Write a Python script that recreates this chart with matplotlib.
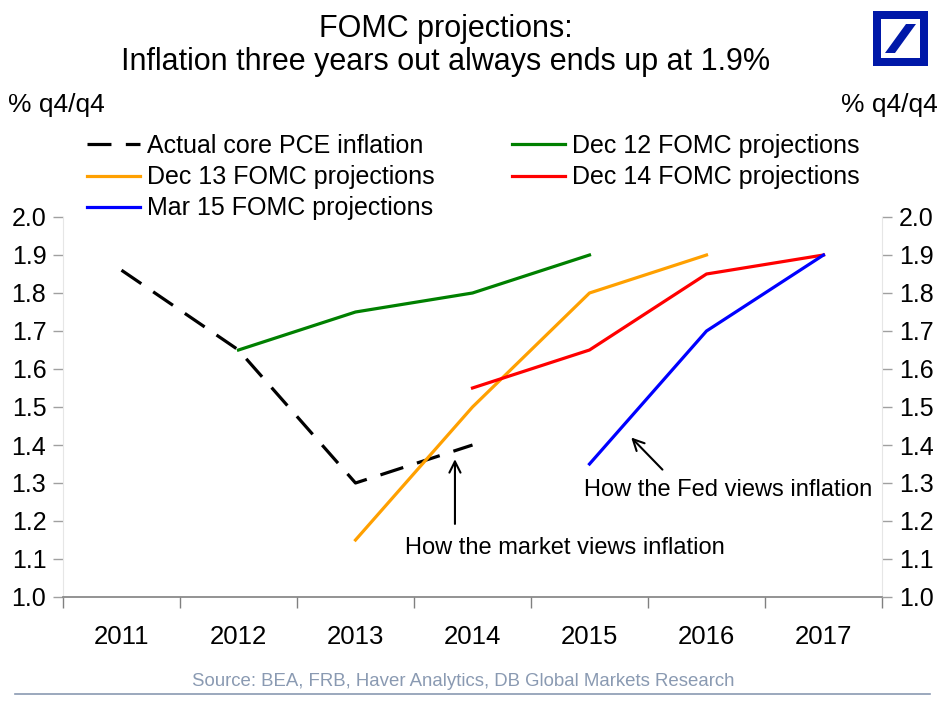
import matplotlib
matplotlib.use("Agg")
import matplotlib.pyplot as plt
from matplotlib.patches import Rectangle, Polygon
import numpy as np

plt.rcParams['font.family'] = ['Liberation Sans', 'DejaVu Sans']

years = ["2011", "2012", "2013", "2014", "2015", "2016", "2017"]
actual_years = ["2011", "2012", "2013", "2014"]
actual_vals = [1.86, 1.65, 1.30, 1.40]
dec12_years = ["2012", "2013", "2014", "2015"]
dec12_vals = [1.65, 1.75, 1.80, 1.90]
dec13_years = ["2013", "2014", "2015", "2016"]
dec13_vals = [1.15, 1.50, 1.80, 1.90]
dec14_years = ["2014", "2015", "2016", "2017"]
dec14_vals = [1.55, 1.65, 1.85, 1.90]
mar15_years = ["2015", "2016", "2017"]
mar15_vals = [1.35, 1.70, 1.90]
yticks = [1.0, 1.1, 1.2, 1.3, 1.4, 1.5, 1.6, 1.7, 1.8, 1.9, 2.0]

def pos(ys):
    return [years.index(y) for y in ys]

fig = plt.figure(figsize=(9.49, 7.02), dpi=100)
ax = fig.add_axes([63/949, 1-597/702, (882-63)/949, (597-217)/702])

lw = 2.3
la, = ax.plot(pos(actual_years), actual_vals, color='black', lw=lw, dashes=(7.5, 4.5),
              solid_capstyle='butt', dash_capstyle='butt', label='Actual core PCE inflation')
l12, = ax.plot(pos(dec12_years), dec12_vals, color='#008000', lw=lw, label='Dec 12 FOMC projections')
l13, = ax.plot(pos(dec13_years), dec13_vals, color='#FFA000', lw=lw, label='Dec 13 FOMC projections')
l14, = ax.plot(pos(dec14_years), dec14_vals, color='#FF0000', lw=lw, label='Dec 14 FOMC projections')
l15, = ax.plot(pos(mar15_years), mar15_vals, color='#0000FF', lw=lw, label='Mar 15 FOMC projections')

ax.set_xlim(-0.5, len(years) - 0.5)
ax.set_ylim(1.0, 2.0)

# x ticks: marks at boundaries, labels at centers
ax.set_xticks(np.arange(-0.5, len(years), 1.0))
ax.set_xticklabels([])
ax.set_xticks(np.arange(len(years)), minor=True)
ax.set_xticklabels(years, minor=True, fontsize=18.5)
ax.tick_params(axis='x', which='major', direction='out', length=8, color='#808080', width=1)
ax.tick_params(axis='x', which='minor', length=0, pad=20)

ax.set_yticks(yticks)
ax.set_yticklabels([f"{v:.1f}" for v in yticks], fontsize=18)
ax.tick_params(axis='y', which='major', direction='out', length=7, color='#A0A0A0', width=1,
               left=True, right=True, labelleft=True, labelright=True, pad=5)

ax.spines['top'].set_visible(False)
ax.spines['left'].set_color('#E6E6E6')
ax.spines['right'].set_color('#E6E6E6')
ax.spines['bottom'].set_color('#808080')
ax.spines['bottom'].set_linewidth(1.2)

# legend
handles = [la, l13, l15, l12, l14]
leg = fig.legend(handles=handles, labels=[h.get_label() for h in handles], ncol=2,
                 loc='upper left', bbox_to_anchor=(87/949, 1-134/702), frameon=False,
                 fontsize=18, handlelength=2.1, handletextpad=0.3, columnspacing=3.1,
                 labelspacing=0.29, borderpad=0, borderaxespad=0)

# titles
fig.text(0.5 * (122 + 770) / 949, 1 - 29/702, "FOMC projections:", ha='center', va='center', fontsize=22)
fig.text(0.5 * (122 + 770) / 949, 1 - 62/702, "Inflation three years out always ends up at 1.9%",
         ha='center', va='center', fontsize=22)

fig.text(8/949, 1 - 105/702, "% q4/q4", ha='left', va='center', fontsize=19)
fig.text(938/949, 1 - 105/702, "% q4/q4", ha='right', va='center', fontsize=19)

# annotations
ax.annotate("", xy=(2.85, 1.37), xytext=(2.85, 1.185),
            arrowprops=dict(arrowstyle='->', color='black', lw=1.5, mutation_scale=20))
fig.text(565/949, 1 - 548/702, "How the market views inflation", ha='center', va='center', fontsize=17)
ax.annotate("", xy=(4.34, 1.425), xytext=(4.64, 1.33),
            arrowprops=dict(arrowstyle='->', color='black', lw=1.5, mutation_scale=20))
fig.text(728/949, 1 - 490/702, "How the Fed views inflation", ha='center', va='center', fontsize=17)

# source and line
fig.text(463/949, 1 - 682/702, "Source: BEA, FRB, Haver Analytics, DB Global Markets Research",
         ha='center', va='center', fontsize=13.4, color='#8A9AB2')
fig.add_artist(plt.Line2D([15/949, 930/949], [1 - 694/702, 1 - 694/702], color='#8A9AB2', lw=1.2,
                          transform=fig.transFigure))

# Deutsche Bank logo
W, H = 949, 702
x0, y0, s = 873, 11, 55
fig.add_artist(Rectangle((x0/W, 1 - (y0 + s)/H), s/W, s/H, transform=fig.transFigure,
                         facecolor='#0018A8', edgecolor='none'))
b = 8
fig.add_artist(Rectangle(((x0 + b)/W, 1 - (y0 + s - b)/H), (s - 2*b)/W, (s - 2*b)/H,
                         transform=fig.transFigure, facecolor='white', edgecolor='none'))
slash = [(x0 + 12, y0 + 42), (x0 + 22, y0 + 42), (x0 + 43, y0 + 13), (x0 + 33, y0 + 13)]
fig.add_artist(Polygon([(px/W, 1 - py/H) for px, py in slash], closed=True, transform=fig.transFigure,
                       facecolor='#0018A8', edgecolor='none'))

fig.savefig("out.png", dpi=100)
